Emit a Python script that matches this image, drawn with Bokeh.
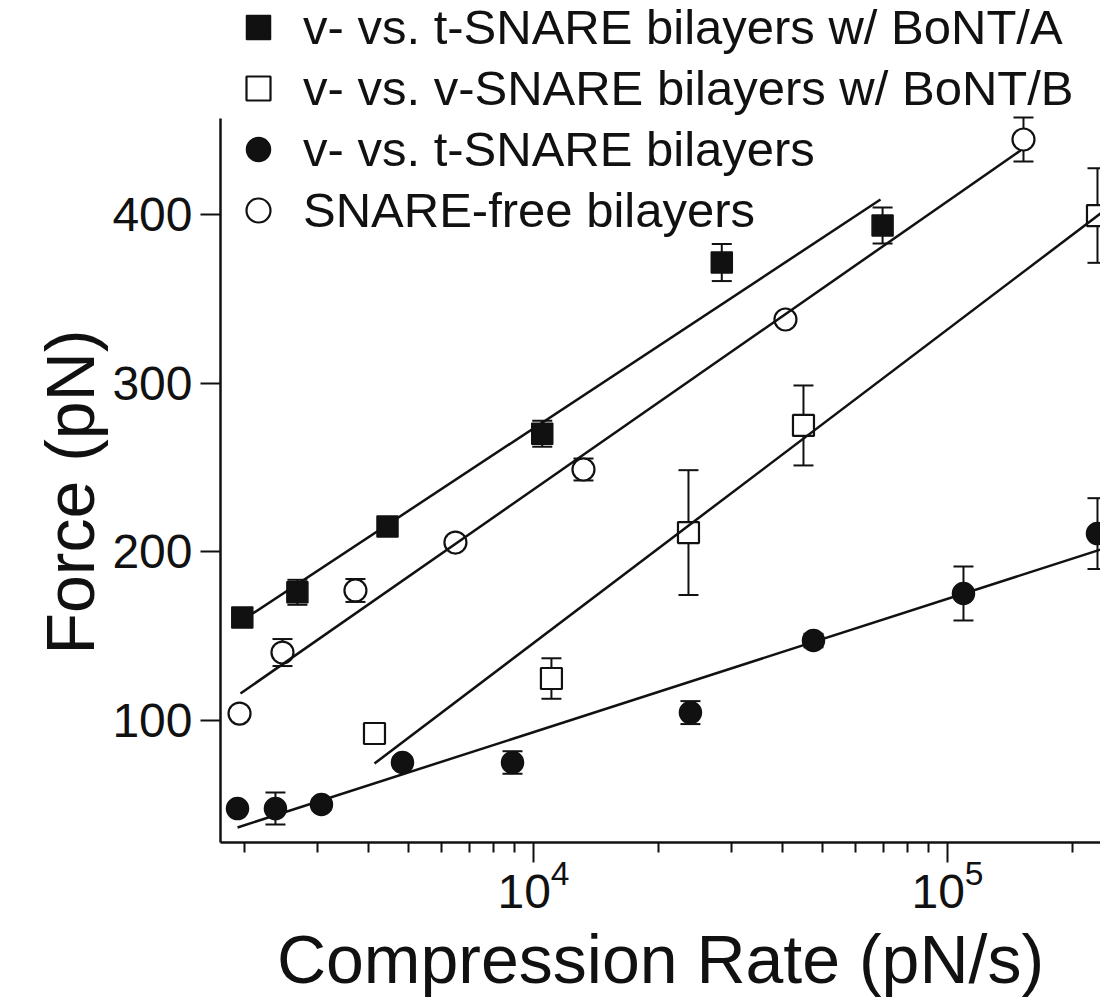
from bokeh.plotting import figure
from bokeh.models import (Range1d, FixedTicker, Whisker, TeeHead, ColumnDataSource,
                          Legend, LegendItem, LogTickFormatter, Title, LinearAxis)
from bokeh.embed import file_html
from bokeh.resources import INLINE

FONT = "Liberation Sans"
INK = "#111111"

# v- vs. t-SNARE bilayers w/ BoNT/A (filled squares)
bont_a_rate = [1980, 2690, 4440, 10500, 28500, 69700]
bont_a_force = [161.0, 176.0, 215.0, 270.0, 371.5, 393.4]
bont_a_err = [4.0, 7.4, 4.0, 7.7, 11.0, 10.7]
bont_a_fit_rate = [1920, 68900]
bont_a_fit_force = [157.2, 408.8]

# v- vs. v-SNARE bilayers w/ BoNT/B (open squares)
bont_b_rate = [4130, 11050, 23680, 44890, 230300]
bont_b_force = [92.3, 124.9, 211.4, 274.9, 399.3]
bont_b_err = [3.0, 12.0, 37.0, 23.7, 28.0]
bont_b_fit_rate = [4130, 250000]
bont_b_fit_force = [74.5, 405.8]

# v- vs. t-SNARE bilayers (filled circles)
vt_rate = [1928, 2381, 3075, 4826, 8899, 23940, 47460, 109300, 230300]
vt_force = [47.8, 47.8, 50.2, 75.1, 75.1, 104.7, 147.4, 175.3, 210.8]
vt_err = [2.0, 9.5, 3.0, 3.0, 6.7, 6.8, 4.0, 16.0, 21.0]
vt_fit_rate = [1928, 250000]
vt_fit_force = [36.6, 203.6]

# SNARE-free bilayers (open circles)
free_rate = [1950, 2476, 3715, 6479, 13206, 40612, 152600]
free_force = [104.1, 140.3, 177.1, 205.5, 248.8, 337.7, 444.4]
free_err = [3.0, 8.0, 6.8, 3.0, 6.5, 3.0, 13.0]
free_fit_rate = [1960, 150100]
free_fit_force = [116.0, 437.9]

legend_labels = ["v- vs. t-SNARE bilayers w/ BoNT/A",
                 "v- vs. v-SNARE bilayers w/ BoNT/B",
                 "v- vs. t-SNARE bilayers",
                 "SNARE-free bilayers"]
x_title = "Compression Rate (pN/s)"
y_title = "Force (pN)"

x_major = [1e4, 1e5]
x_minor = [m * 10 ** e for e in (3, 4) for m in range(2, 10)] + [2e5]
y_major = [100, 200, 300, 400]
y_axis_extent = (27.7, 456.9)

p = figure(width=1100, height=999, x_axis_type="log",
           x_range=Range1d(1754, 234200), y_range=Range1d(27.7, 526.8),
           output_backend="svg", toolbar_location=None,
           min_border_left=220, min_border_right=0,
           min_border_top=0, min_border_bottom=157)
p.outline_line_color = None
p.grid.visible = False
p.background_fill_color = "white"
p.border_fill_color = "white"

# axes
p.xaxis.ticker = FixedTicker(ticks=x_major, minor_ticks=x_minor)
p.xaxis.formatter = LogTickFormatter()
p.yaxis.ticker = FixedTicker(ticks=y_major, minor_ticks=[])
p.yaxis.bounds = y_axis_extent
p.xaxis.axis_label = x_title
for ax in (p.xaxis, p.yaxis):
    ax.axis_line_color = INK
    ax.axis_line_width = 2.5
    ax.major_tick_line_color = INK
    ax.major_tick_line_width = 2
    ax.minor_tick_line_color = INK
    ax.minor_tick_line_width = 2
    ax.major_tick_in = 0
    ax.minor_tick_in = 0
    ax.major_tick_out = 20
    ax.major_label_text_font = FONT
    ax.major_label_text_color = INK
    ax.major_label_text_font_size = "48px"
    ax.axis_label_text_font = FONT
    ax.axis_label_text_color = INK
    ax.axis_label_text_font_style = "normal"
    ax.axis_label_text_font_size = "68px"
p.xaxis.minor_tick_out = 10
p.yaxis.minor_tick_out = 0
p.xaxis.major_label_standoff = -4
p.xaxis.axis_label_standoff = 10
p.yaxis.major_label_standoff = 8

# blank spacer axis (no line and an empty tick list) to set the y title's distance
spacer = LinearAxis(ticker=FixedTicker(ticks=[], minor_ticks=[]), axis_line_color=None,
                    major_tick_line_color=INK, minor_tick_line_color=None,
                    major_tick_in=0, major_tick_out=27, minor_tick_in=0, minor_tick_out=0,
                    major_label_standoff=0)
p.add_layout(spacer, "left")

# y axis title, placed along the drawn axis rather than centred on the whole frame
p.add_layout(Title(text=y_title, align="left", offset=188, standoff=0,
                   vertical_align="top",
                   text_font=FONT, text_font_size="68px", text_font_style="normal",
                   text_color=INK), "left")


def errbars(rate, force, err):
    src = ColumnDataSource(dict(x=rate, lo=[f - e for f, e in zip(force, err)],
                                hi=[f + e for f, e in zip(force, err)]))
    w = Whisker(source=src, base="x", lower="lo", upper="hi", dimension="height",
                line_color=INK, line_width=2, level="underlay",
                lower_head=TeeHead(size=20, line_color=INK, line_width=2),
                upper_head=TeeHead(size=20, line_color=INK, line_width=2))
    p.add_layout(w)


errbars(bont_a_rate, bont_a_force, bont_a_err)
errbars(bont_b_rate, bont_b_force, bont_b_err)
errbars(vt_rate, vt_force, vt_err)
errbars(free_rate, free_force, free_err)

r_a = p.scatter(bont_a_rate, bont_a_force, marker="square", size=21,
                fill_color=INK, line_color=INK, line_width=1.5)
r_b = p.scatter(bont_b_rate, bont_b_force, marker="square", size=21,
                fill_color="white", line_color=INK, line_width=2.2)
r_vt = p.scatter(vt_rate, vt_force, marker="circle", size=22,
                 fill_color=INK, line_color=INK, line_width=1.5)
r_free = p.scatter(free_rate, free_force, marker="circle", size=22,
                   fill_color="white", line_color=INK, line_width=2.2)

for fx, fy in ((bont_a_fit_rate, bont_a_fit_force), (bont_b_fit_rate, bont_b_fit_force),
               (vt_fit_rate, vt_fit_force), (free_fit_rate, free_fit_force)):
    p.line(fx, fy, line_color=INK, line_width=2.5)

legend = Legend(items=[LegendItem(label=legend_labels[0], renderers=[r_a]),
                       LegendItem(label=legend_labels[1], renderers=[r_b]),
                       LegendItem(label=legend_labels[2], renderers=[r_vt]),
                       LegendItem(label=legend_labels[3], renderers=[r_free])],
                location=(6, 602), glyph_width=64, glyph_height=60, label_height=60,
                label_standoff=13, padding=0, margin=0, spacing=1,
                border_line_color=None, background_fill_alpha=0,
                label_text_font=FONT, label_text_font_size="49px",
                label_text_color=INK)
p.add_layout(legend)

open("out.html", "w").write(file_html(p, INLINE))
